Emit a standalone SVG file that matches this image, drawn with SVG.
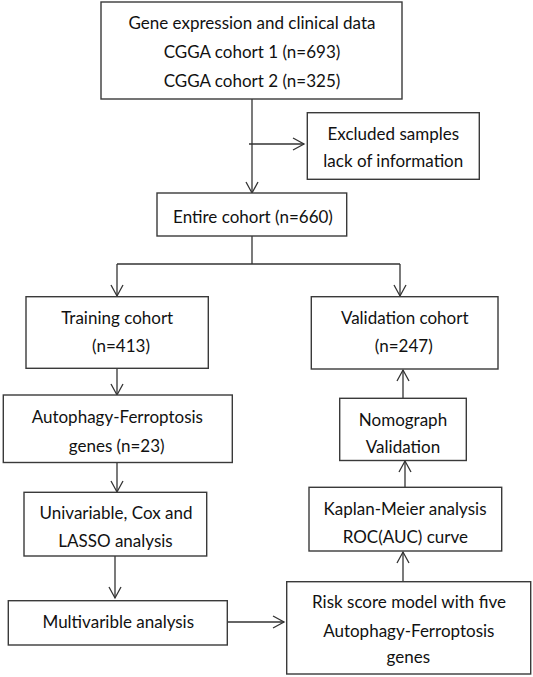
<svg xmlns="http://www.w3.org/2000/svg" width="533" height="677" viewBox="0 0 533 677">
<style>
  .box { fill: #ffffff; stroke: #3a3a3a; stroke-width: 1.4; }
  .lbl { font-family: "Lato", "Liberation Sans", sans-serif; font-size: 17px; fill: #111111; text-anchor: middle; }
  .conn { fill: none; stroke: #333333; stroke-width: 1.3; }
  .arr { marker-end: url(#arrow); }
</style>
<defs>
  <marker id="arrow" viewBox="0 0 14 14" refX="12" refY="7" markerWidth="14" markerHeight="14" markerUnits="userSpaceOnUse" orient="auto">
    <path d="M1,1 L12,7 L1,13" fill="none" stroke="#333333" stroke-width="1.3"/>
  </marker>
</defs>
<rect width="533" height="677" fill="#ffffff"/>

<g id="connectors">
  <line class="conn arr" x1="252" y1="99" x2="252" y2="193"/>
  <line class="conn arr" x1="249" y1="144" x2="304" y2="144"/>
  <polyline class="conn" points="252,236 252,264"/>
  <line class="conn" x1="117" y1="264" x2="400" y2="264"/>
  <line class="conn arr" x1="117" y1="264" x2="117" y2="296"/>
  <line class="conn arr" x1="400" y1="264" x2="400" y2="296"/>
  <line class="conn arr" x1="117" y1="368" x2="117" y2="395"/>
  <line class="conn arr" x1="117" y1="462" x2="117" y2="492"/>
  <line class="conn arr" x1="115" y1="556" x2="115" y2="598"/>
  <line class="conn arr" x1="227" y1="622" x2="284" y2="622"/>
  <line class="conn arr" x1="403" y1="582" x2="403" y2="552"/>
  <line class="conn arr" x1="405" y1="487" x2="405" y2="461"/>
  <line class="conn arr" x1="403" y1="398" x2="403" y2="370"/>
</g>

<g id="node-data">
  <rect class="box" x="101" y="2" width="301" height="97"/>
  <text class="lbl" x="252" y="29">Gene expression and clinical data</text>
  <text class="lbl" x="252" y="58">CGGA cohort 1 (n=693)</text>
  <text class="lbl" x="252" y="87">CGGA cohort 2 (n=325)</text>
</g>
<g id="node-excluded">
  <rect class="box" x="307.3" y="112.7" width="172" height="66.6"/>
  <text class="lbl" x="393.3" y="140">Excluded samples</text>
  <text class="lbl" x="393.3" y="166.7">lack of information</text>
</g>
<g id="node-entire">
  <rect class="box" x="157" y="193" width="189.7" height="43"/>
  <text class="lbl" x="253" y="222.7">Entire cohort (n=660)</text>
</g>
<g id="node-training">
  <rect class="box" x="26" y="296.7" width="182.3" height="71.6"/>
  <text class="lbl" x="117.2" y="324.3">Training cohort</text>
  <text class="lbl" x="121" y="351.7">(n=413)</text>
</g>
<g id="node-validation">
  <rect class="box" x="311.3" y="296.7" width="186.7" height="72.3"/>
  <text class="lbl" x="404.7" y="324.3">Validation cohort</text>
  <text class="lbl" x="403.8" y="351.7">(n=247)</text>
</g>
<g id="node-autophagy">
  <rect class="box" x="3.3" y="395" width="229" height="67.5"/>
  <text class="lbl" x="117.3" y="423.3">Autophagy-Ferroptosis</text>
  <text class="lbl" x="116.7" y="451.7">genes (n=23)</text>
</g>
<g id="node-nomograph">
  <rect class="box" x="339.7" y="398.3" width="126.6" height="62.2"/>
  <text class="lbl" x="403" y="425.7">Nomograph</text>
  <text class="lbl" x="403" y="452.7">Validation</text>
</g>
<g id="node-univariable">
  <rect class="box" x="24" y="492.3" width="182.7" height="63.7"/>
  <text class="lbl" x="116" y="519.3">Univariable, Cox and</text>
  <text class="lbl" x="115.5" y="546.7">LASSO analysis</text>
</g>
<g id="node-kaplan">
  <rect class="box" x="309" y="487.3" width="192.7" height="63.7"/>
  <text class="lbl" x="405" y="515">Kaplan-Meier analysis</text>
  <text class="lbl" x="405.3" y="542.7">ROC(AUC) curve</text>
</g>
<g id="node-multivariable">
  <rect class="box" x="8.3" y="600.7" width="219" height="44.3"/>
  <text class="lbl" x="118.3" y="627.7">Multivarible analysis</text>
</g>
<g id="node-risk">
  <rect class="box" x="286.7" y="581.7" width="244" height="92.3"/>
  <text class="lbl" x="409" y="608.3">Risk score model with five</text>
  <text class="lbl" x="408.8" y="636.7">Autophagy-Ferroptosis</text>
  <text class="lbl" x="408.3" y="663.3">genes</text>
</g>
</svg>
